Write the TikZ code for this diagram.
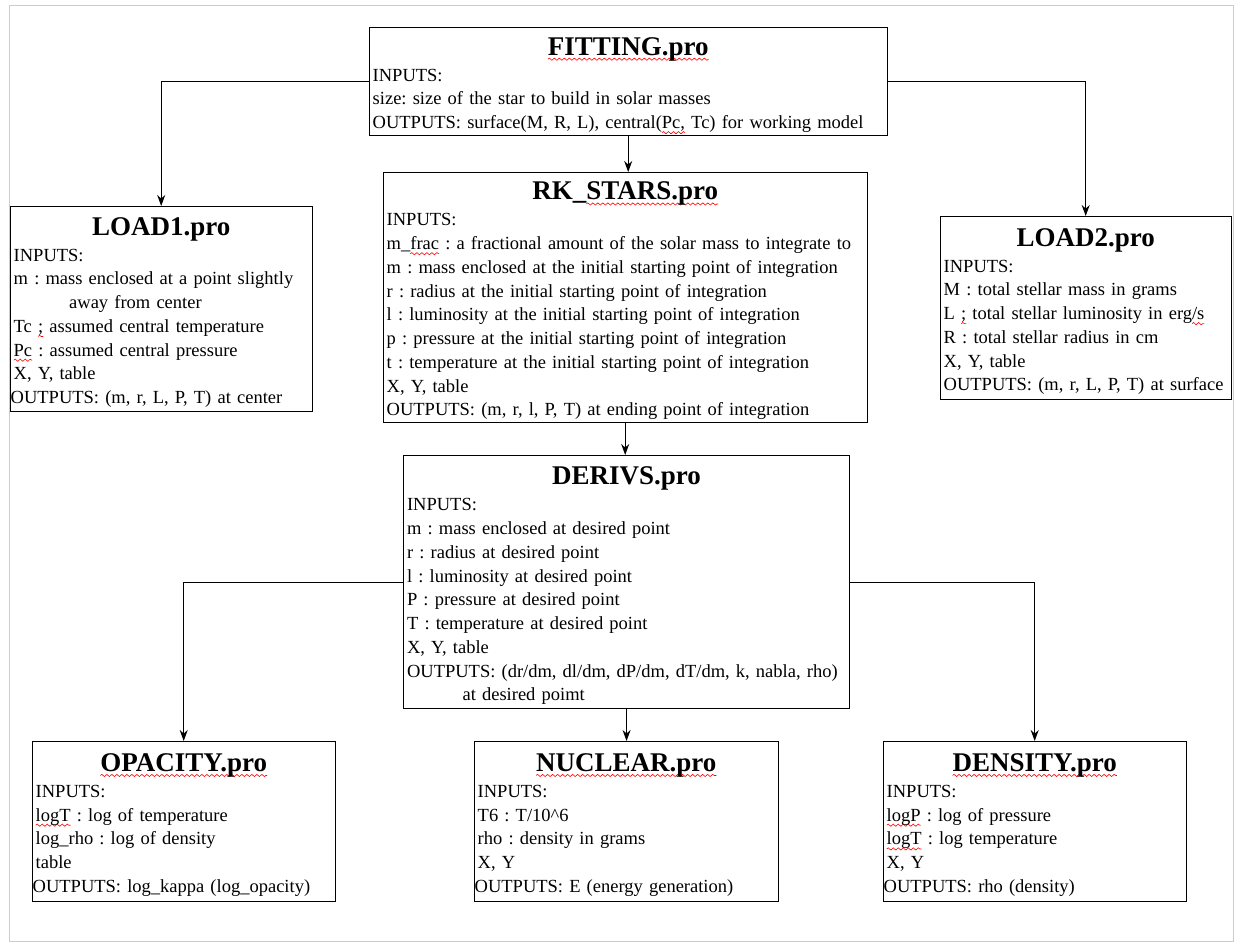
\documentclass[tikz,border=0pt]{standalone}
\usepackage{fontspec}
\setmainfont{Liberation Serif}
\usetikzlibrary{arrows.meta,decorations.pathmorphing}

% red wavy underline of the spell checker
\newlength\spellwd
\newcommand\spell[1]{\leavevmode\settowidth\spellwd{#1}%
  \rlap{\tikz[overlay,baseline=0pt]\draw[-,red,line width=0.6pt,decorate,
    decoration={snake,amplitude=1.1pt,segment length=5pt}] (0pt,-4pt) -- (\spellwd,-4pt);}#1}
\newcommand\titlefont{\fontsize{27}{30}\selectfont\bfseries}
\newcommand\bodyfont{\fontsize{18.5}{23.75}\selectfont\frenchspacing}
\newcommand\proctitle[1]{\makebox[\hsize]{\rule{0pt}{25.5pt}\titlefont #1}\\[2.25pt]}

\begin{document}
\begin{tikzpicture}[x=1pt,y=-1pt,->,>={Stealth[length=11pt,width=8pt]},
  line width=1.1pt,
  proc/.style={draw,anchor=north west,align=left,inner xsep=3pt,inner ysep=2pt,font=\bodyfont}]

  \useasboundingbox (0,0) rectangle (1235,944);
  \draw[-,gray!40,line width=1pt] (9,6) rectangle (1233,941);

  \node[proc,text width=511pt,minimum width=518pt,minimum height=108pt] (fitting) at (369,27)
    {\proctitle{\spell{FITTING.pro}}
     INPUTS:\\
     size: size of the star to build in solar masses\\
     OUTPUTS: surface(M, R, L), central(\spell{Pc,} Tc) for working model};
  \node[proc,text width=295pt,minimum width=302pt,minimum height=205pt] (load1) at (10,206)
    {\proctitle{LOAD1.pro}
     INPUTS:\\
     m : mass enclosed at a point slightly\\
     \hspace*{3em}away from center\\
     Tc \spell{;} assumed central temperature\\
     \spell{Pc} : assumed central pressure\\
     X, Y, table\\
     \hspace*{-3pt}OUTPUTS: (m, r, L, P, T) at center};
  \node[proc,text width=477pt,minimum width=484pt,minimum height=250pt] (rkstars) at (383,172)
    {\proctitle{RK\_\spell{STARS.pro}}
     INPUTS:\\
     m\_\spell{frac} : a fractional amount of the solar mass to integrate to\\
     m : mass enclosed at the initial starting point of integration\\
     r : radius at the initial starting point of integration\\
     l : luminosity at the initial starting point of integration\\
     p : pressure at the initial starting point of integration\\
     t : temperature at the initial starting point of integration\\
     X, Y, table\\
     OUTPUTS: (m, r, l, P, T) at ending point of integration};
  \node[proc,text width=284pt,minimum width=291pt,minimum height=183pt] (load2) at (940,216)
    {\proctitle{LOAD2.pro}
     INPUTS:\\
     M : total stellar mass in grams\\
     L \spell{;} total stellar luminosity in erg\spell{/s}\\
     R : total stellar radius in cm\\
     X, Y, table\\
     OUTPUTS: (m, r, L, P, T) at surface};
  \node[proc,text width=439pt,minimum width=446pt,minimum height=253pt] (derivs) at (403,455)
    {\proctitle{DERIVS.pro}
     INPUTS:\\
     m : mass enclosed at desired point\\
     r : radius at desired point\\
     l : luminosity at desired point\\
     P : pressure at desired point\\
     T : temperature at desired point\\
     X, Y, table\\
     OUTPUTS: (dr/dm, dl/dm, dP/dm, dT/dm, k, nabla, rho)\\
     \hspace*{3em}at desired poimt};
  \node[proc,text width=296pt,minimum width=303pt,minimum height=160pt] (opacity) at (32,741)
    {\proctitle{\spell{OPACITY.pro}}
     INPUTS:\\
     \spell{logT} : log of temperature\\
     log\_rho : log of density\\
     table\\
     \hspace*{-3pt}OUTPUTS: log\_kappa (log\_opacity)};
  \node[proc,text width=297pt,minimum width=304pt,minimum height=160pt] (nuclear) at (474,741)
    {\proctitle{\spell{NUCLEAR.pro}}
     INPUTS:\\
     T6 : T/10\textasciicircum 6\\
     rho : density in grams\\
     X, Y\\
     \hspace*{-3pt}OUTPUTS: E (energy generation)};
  \node[proc,text width=296pt,minimum width=303pt,minimum height=160pt] (density) at (883,741)
    {\proctitle{\spell{DENSITY.pro}}
     INPUTS:\\
     \spell{logP} : log of pressure\\
     \spell{logT} : log temperature\\
     X, Y\\
     \hspace*{-3pt}OUTPUTS: rho (density)};

  \draw (fitting.west) -| (load1.north);
  \draw (fitting.east) -| (load2.north);
  \draw (fitting.south) -- (fitting.south |- rkstars.north);
  \draw (rkstars.south) -- (rkstars.south |- derivs.north);
  \draw (derivs.west) -| (opacity.north);
  \draw (derivs.south) -- (derivs.south |- nuclear.north);
  \draw (derivs.east) -| (density.north);
\end{tikzpicture}
\end{document}
